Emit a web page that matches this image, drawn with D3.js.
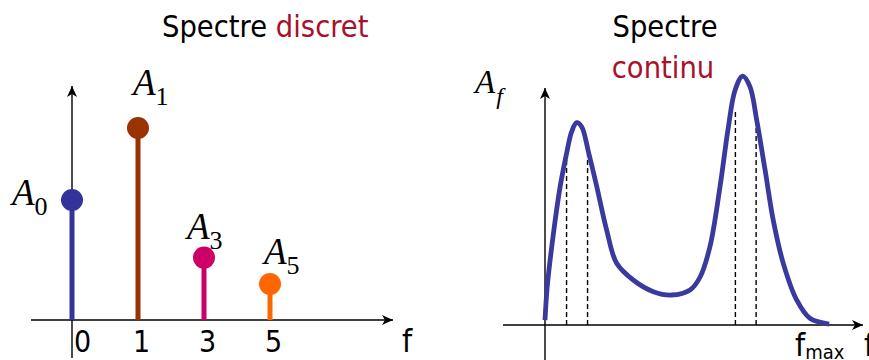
<!DOCTYPE html>
<html>
<head>
<meta charset="utf-8">
<script src="https://cdn.jsdelivr.net/npm/d3@7/dist/d3.min.js"></script>
<style>
  html, body { margin: 0; padding: 0; background: #fff; }
  svg { display: block; }
</style>
</head>
<body>
<svg id="chart" width="869" height="360"></svg>
<script>
// Discrete spectrum: harmonic index and amplitude of each line
const harmonics = ["0", "1", "3", "5"];
const harmonicAmps = [5, 8, 2.6, 1.5];
const harmonicColors = ["#333399", "#993300", "#cc0066", "#ff6600"];

// Continuous spectrum: sampled amplitude along the frequency axis
const contFreqs = [0, 0.08, 0.3, 0.54, 0.78, 0.95, 1.13, 1.31, 1.55, 1.85, 2.2, 2.56, 3.15, 3.87, 4.52,
                   5.18, 5.54, 5.89, 6.25, 6.55, 6.79, 7.06, 7.32, 7.56, 7.86, 8.15, 8.51, 8.99, 9.46, 10.15];
const contAmps  = [0.2, 1.6, 3.8, 5.76, 7.2, 8.05, 8.43, 8.26, 7.22, 5.76, 3.96, 2.57, 1.875, 1.39, 1.25,
                   1.46, 2.0, 3.26, 5.76, 8.26, 9.79, 10.37, 9.93, 8.54, 6.46, 4.375, 2.57, 1.04, 0.28, 0.04];

// Band edges marked with dashed lines under the two peaks
const bandFreqs = [0.77, 1.52, 6.8, 7.54];
const bandTops  = [7.22, 7.15, 8.89, 8.68];

// Texts
const titleLeft = ["Spectre ", "discret"];
const titleRight = ["Spectre", "continu"];
const freqLabel = "f";

const svg = d3.select("#chart");
const red = "#a8112b";
const blue = "#3a3a9e";
const sansFont = "'DejaVu Sans Condensed', 'DejaVu Sans', sans-serif";
const serifFont = "'Liberation Serif', 'DejaVu Serif', serif";

// arrowhead marker
const defs = svg.append("defs");
defs.append("marker")
  .attr("id", "arrow")
  .attr("viewBox", "-12 -6 13 12")
  .attr("refX", 0).attr("refY", 0)
  .attr("markerWidth", 13).attr("markerHeight", 12)
  .attr("markerUnits", "userSpaceOnUse")
  .attr("orient", "auto")
  .append("path")
  .attr("d", "M0,0 L-11,-5 L-8,0 L-11,5 Z")
  .attr("fill", "#000");

// ---------- Left panel: discrete spectrum ----------
const xL = d3.scalePoint().domain(harmonics).range([72, 270]);
const yL = d3.scaleLinear().domain([0, 10]).range([320, 80]);

const left = svg.append("g");

// axes with arrows
left.append("line")
  .attr("x1", 31).attr("x2", 393)
  .attr("y1", yL(0)).attr("y2", yL(0))
  .attr("stroke", "#000").attr("stroke-width", 1.4)
  .attr("marker-end", "url(#arrow)");
left.append("line")
  .attr("x1", xL("0")).attr("x2", xL("0"))
  .attr("y1", 358).attr("y2", 86)
  .attr("stroke", "#000").attr("stroke-width", 1.4)
  .attr("marker-end", "url(#arrow)");

// tick labels
const axisL = d3.axisBottom(xL).tickSize(0).tickPadding(0);
const axisG = left.append("g")
  .attr("transform", `translate(0,${yL(0)})`)
  .call(axisL);
axisG.select(".domain").remove();
axisG.selectAll("text")
  .attr("font-family", sansFont)
  .attr("font-size", 30)
  .attr("fill", "#000")
  .attr("dy", null)
  .attr("y", 32)
  .attr("dx", (d, i) => i === 0 ? 10 : 3);

left.append("text")
  .attr("x", 402).attr("y", 352)
  .attr("font-family", sansFont).attr("font-size", 32)
  .text(freqLabel);

// stems
left.selectAll("line.stem")
  .data(harmonics)
  .join("line")
  .attr("class", "stem")
  .attr("x1", d => xL(d)).attr("x2", d => xL(d))
  .attr("y1", yL(0))
  .attr("y2", (d, i) => yL(harmonicAmps[i]))
  .attr("stroke", (d, i) => harmonicColors[i])
  .attr("stroke-width", 5);

left.selectAll("circle.head")
  .data(harmonics)
  .join("circle")
  .attr("class", "head")
  .attr("cx", d => xL(d))
  .attr("cy", (d, i) => yL(harmonicAmps[i]))
  .attr("r", 11)
  .attr("fill", (d, i) => harmonicColors[i]);

// amplitude labels A_n placed around each head
const labelOffsets = [[-60, 5], [-5, -33], [-17, -19], [-6, -20]];
const ampLabels = left.selectAll("text.amp")
  .data(harmonics)
  .join("text")
  .attr("class", "amp")
  .attr("x", (d, i) => xL(d) + labelOffsets[i][0])
  .attr("y", (d, i) => yL(harmonicAmps[i]) + labelOffsets[i][1])
  .attr("font-family", serifFont)
  .attr("font-style", "italic")
  .attr("font-size", 37);
ampLabels.append("tspan").text("A");
ampLabels.append("tspan")
  .attr("font-style", "normal")
  .attr("font-size", 26)
  .attr("dy", 10)
  .text(d => d);

// title
const tL = svg.append("text")
  .attr("x", 162).attr("y", 37)
  .attr("font-family", sansFont).attr("font-size", 30.5);
tL.append("tspan").attr("fill", "#000").text(titleLeft[0]);
tL.append("tspan").attr("fill", red).text(titleLeft[1]);

// ---------- Right panel: continuous spectrum ----------
const xR = d3.scaleLinear().domain([0, 10]).range([545, 825]);
const yR = d3.scaleLinear().domain([0, 10]).range([325, 85]);

const right = svg.append("g");

right.append("line")
  .attr("x1", 503).attr("x2", 863)
  .attr("y1", yR(0)).attr("y2", yR(0))
  .attr("stroke", "#000").attr("stroke-width", 1.4)
  .attr("marker-end", "url(#arrow)");
right.append("line")
  .attr("x1", xR(0)).attr("x2", xR(0))
  .attr("y1", 362).attr("y2", 88)
  .attr("stroke", "#000").attr("stroke-width", 1.4)
  .attr("marker-end", "url(#arrow)");

// dashed band edges
right.selectAll("line.band")
  .data(bandFreqs)
  .join("line")
  .attr("class", "band")
  .attr("x1", d => xR(d)).attr("x2", d => xR(d))
  .attr("y1", yR(0))
  .attr("y2", (d, i) => yR(bandTops[i]))
  .attr("stroke", "#000")
  .attr("stroke-width", 1.4)
  .attr("stroke-dasharray", "5,3");

// spectrum curve
const line = d3.line()
  .x(d => xR(d[0]))
  .y(d => yR(d[1]))
  .curve(d3.curveCatmullRom.alpha(0.5));
right.append("path")
  .datum(d3.zip(contFreqs, contAmps))
  .attr("d", line)
  .attr("fill", "none")
  .attr("stroke", blue)
  .attr("stroke-width", 4.8)
  .attr("stroke-linejoin", "round");

// A_f label
const af = right.append("text")
  .attr("x", 475).attr("y", 93)
  .attr("font-family", serifFont)
  .attr("font-style", "italic")
  .attr("font-size", 33);
af.append("tspan").text("A");
af.append("tspan").attr("font-size", 24).attr("dx", 1).attr("dy", 11).text("f");

// f_max label
const fm = right.append("text")
  .attr("x", 795).attr("y", 356)
  .attr("font-family", sansFont).attr("font-size", 32);
fm.append("tspan").text("f");
fm.append("tspan").attr("font-size", 20).attr("dy", 3).text("max");

// axis name at the arrow end
right.append("text")
  .attr("x", 864).attr("y", 356)
  .attr("font-family", sansFont).attr("font-size", 32)
  .text(freqLabel);

// title
const tR = svg.append("text")
  .attr("font-family", sansFont).attr("font-size", 30.5)
  .attr("text-anchor", "middle");
tR.append("tspan").attr("x", 665).attr("y", 37).attr("fill", "#000").text(titleRight[0]);
tR.append("tspan").attr("x", 663).attr("y", 78).attr("fill", red).text(titleRight[1]);
</script>
</body>
</html>
